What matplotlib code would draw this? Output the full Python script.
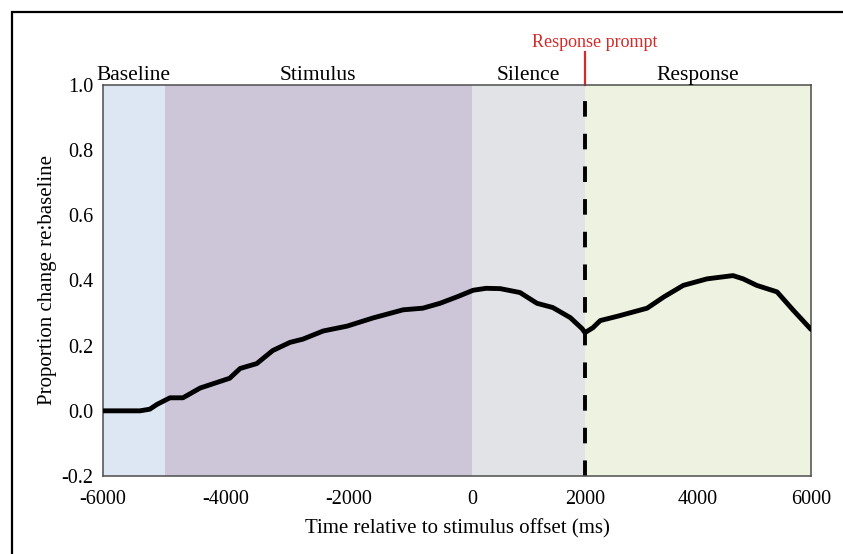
import numpy as np
import matplotlib
matplotlib.use("Agg")
import matplotlib.pyplot as plt
from matplotlib.patches import Rectangle

plt.rcParams["font.family"] = ["Liberation Serif", "DejaVu Serif"]
plt.rcParams["axes.unicode_minus"] = False

# Mean response trace (ms relative to stimulus offset, proportion change re: baseline)
time_ms = [-6000, -5400, -5240, -5120, -4910, -4700, -4420, -3940, -3770, -3500,
           -3240, -2960, -2750, -2420, -2030, -1610, -1120, -800, -520, -240,
           20, 250, 500, 850, 1150, 1430, 1740, 1950, 2000, 2140, 2270,
           2570, 3100, 3400, 3740, 4160, 4620, 4800, 5040, 5400, 5680, 6000]
response = [0.0, 0.0, 0.005, 0.02, 0.04, 0.04, 0.07, 0.10, 0.13, 0.145,
            0.185, 0.21, 0.22, 0.245, 0.26, 0.285, 0.31, 0.315, 0.33, 0.35,
            0.37, 0.376, 0.375, 0.363, 0.33, 0.317, 0.286, 0.252, 0.24, 0.255, 0.277,
            0.29, 0.315, 0.35, 0.385, 0.405, 0.415, 0.405, 0.385, 0.365, 0.31, 0.25]

# Trial epochs
epoch_names = ["Baseline", "Stimulus", "Silence", "Response"]
epoch_start = [-6000, -5000, 0, 2000]
epoch_end = [-5000, 0, 2000, 6000]
epoch_colors = ["#dce7f3", "#cdc5d8", "#e2e3e7", "#edf3e0"]
prompt_time = 2000

xticks = [-6000, -4000, -2000, 0, 2000, 4000, 6000]
yticks = [-0.2, 0.0, 0.2, 0.4, 0.6, 0.8, 1.0]

# pre-offset part of the axis is drawn a little wider than the post-offset part
scale_in = [-6000, 0, 6000]
scale_out = [0, 369, 708]


def fwd(x):
    return np.interp(x, scale_in, scale_out)


def inv(x):
    return np.interp(x, scale_out, scale_in)


fig = plt.figure(figsize=(8.43, 5.54), dpi=100)
ax = fig.add_axes([0.1222, 0.1408, 0.8398, 0.7058])
ax.set_xscale("function", functions=(fwd, inv))

for name, x0, x1, c in zip(epoch_names, epoch_start, epoch_end, epoch_colors):
    ax.axvspan(x0, x1, color=c, lw=0, zorder=0)
    # centre each label over its epoch in screen space
    xc = inv(fwd(x0) / 2 + fwd(x1) / 2)
    ax.text(xc, 1.014, name, transform=ax.get_xaxis_transform(),
            ha="center", va="baseline", fontsize=15.5)

ax.axvline(prompt_time, color="black", lw=2.8, dashes=(4, 4.4), zorder=2)
ax.plot([prompt_time, prompt_time], [1.0, 1.085], color="#d42a2a", lw=1.6,
        transform=ax.get_xaxis_transform(), clip_on=False)
ax.text(prompt_time + 170, 1.097, "Response prompt", transform=ax.get_xaxis_transform(),
        ha="center", va="baseline", fontsize=13, color="#d42a2a")

ax.plot(time_ms, response, color="black", lw=3.5, solid_joinstyle="round",
        solid_capstyle="round", zorder=3)

ax.set_xlim(-6000, 6000)
ax.set_ylim(-0.2, 1.0)
ax.set_xticks(xticks)
ax.set_xticklabels([str(v) for v in xticks])
ax.set_yticks(yticks)
ax.set_yticklabels([f"{v:.1f}" for v in yticks])
ax.tick_params(length=0, labelsize=14.5)
ax.tick_params(axis="x", pad=10)
ax.tick_params(axis="y", pad=7)

for s in ax.spines.values():
    s.set_color("#4d4d4d")
    s.set_linewidth(1.1)

ax.set_xlabel("Time relative to stimulus offset (ms)", fontsize=15, labelpad=7)
ax.set_ylabel("Proportion change re:baseline", fontsize=15, labelpad=3)

# frame around the panel
fig.patches.append(Rectangle((12 / 843, -0.1), 1.2, 1.1 - 12 / 554, transform=fig.transFigure,
                             fill=False, ec="black", lw=1.6, clip_on=False))

fig.savefig("out.png", dpi=100)
